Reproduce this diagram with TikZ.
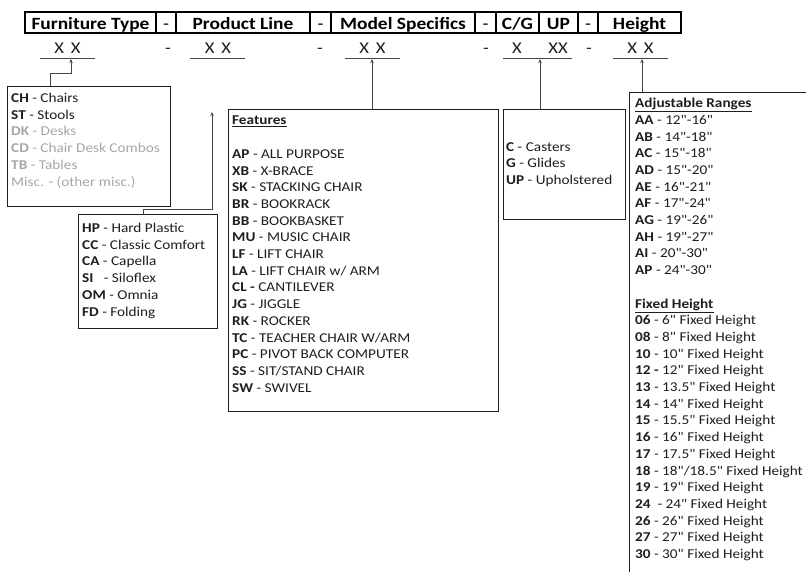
\documentclass[tikz,border=0pt]{standalone}
\usepackage{fontspec}
\setmainfont{Carlito}[FakeStretch=1.13, Ligatures=TeXOff]
\usepackage{xcolor}
\usetikzlibrary{arrows.meta,positioning}
\definecolor{ink}{RGB}{30,30,30}
\definecolor{faded}{RGB}{166,166,166}
\definecolor{wire}{RGB}{70,70,70}

\begin{document}
\begin{tikzpicture}[
    x=1pt, y=-1pt,
    font=\fontsize{13.5}{16.7}\selectfont,
    cell/.style={draw=black, line width=1.2pt, minimum height=21pt,
                 inner sep=0pt, outer sep=0pt, text height=15pt, text depth=1.4pt,
                 font=\fontsize{17.2}{19}\selectfont\bfseries},
    code/.style={inner sep=0pt, anchor=base, text=ink,
                 font=\fontsize{16.5}{19}\selectfont},
    box/.style={draw=ink, line width=0.9pt, inner sep=0pt, anchor=north west},
    list/.style={align=left, anchor=north west, inner sep=0pt, text=ink},
    rule/.style={draw=wire, line width=0.8pt},
    link/.style={-{Stealth[length=4pt,width=3.5pt]}, draw=wire, line width=0.8pt},
    node distance=0pt
  ]
    \useasboundingbox (0,0) rectangle (806,571);
    \clip (0,0) rectangle (806,571);

    % header row
    \node[cell, minimum width=131pt, anchor=north west] (ftype) at (25,12) {Furniture Type};
    \node[cell, minimum width=20pt, right=of ftype] (dash1) {\mdseries -};
    \node[cell, minimum width=134pt, right=of dash1] (pline) {Product Line};
    \node[cell, minimum width=21pt, right=of pline] (dash2) {\mdseries -};
    \node[cell, minimum width=144pt, right=of dash2] (model) {Model Specifics};
    \node[cell, minimum width=21pt, right=of model] (dash3) {\mdseries -};
    \node[cell, minimum width=43pt, right=of dash3] (cg) {C/G};
    \node[cell, minimum width=39pt, right=of cg] (up) {UP};
    \node[cell, minimum width=20pt, right=of up] (dash4) {\mdseries -};
    \node[cell, minimum width=83pt, right=of dash4] (height) {Height};

    % code row
    \node[code] (ftxx) at (67.5,53) {X\hspace{7pt}X};
    \node[code] (sep1) at (168,53) {-};
    \node[code] (plxx) at (218,53) {X\hspace{7pt}X};
    \node[code] (sep2) at (320,53) {-};
    \node[code] (msxx) at (372.5,53) {X\hspace{7pt}X};
    \node[code] (sep3) at (486,53) {-};
    \node[code] (cgx) at (517,53) {X};
    \node[code] (upxx) at (558,53) {XX};
    \node[code] (sep4) at (589,53) {-};
    \node[code] (hxx) at (640.5,53) {X\hspace{7pt}X};
    \draw[rule] (40,58) -- (95,58);
    \draw[rule] (190,58) -- (245,58);
    \draw[rule] (345,58) -- (400,58);
    \draw[rule] (503,58) -- (572,58);
    \draw[rule] (613,58) -- (668,58);
    \coordinate (mstip) at (372,59);
    \coordinate (cgtip) at (540,59);
    \coordinate (htip) at (642,59);

    % furniture types
    \node[box, minimum width=163pt, minimum height=120pt] (types) at (7,86) {};
    \node[list, below right=7pt and 4pt of types.north west] (typelist)
      {\textbf{CH} - Chairs\\
       \textbf{ST} - Stools\\
       \textcolor{faded}{\textbf{DK} - Desks}\\
       \textcolor{faded}{\textbf{CD} - Chair Desk Combos}\\
       \textcolor{faded}{\textbf{TB} - Tables}\\
       \textcolor{faded}{Misc. - (other misc.)}};

    % product lines
    \node[box, minimum width=139pt, minimum height=114pt] (lines) at (78,214) {};
    \node[list, below right=9pt and 4pt of lines.north west] (linelist)
      {\textbf{HP} - Hard Plastic\\
       \textbf{CC} - Classic Comfort\\
       \textbf{CA} - Capella\\
       \textbf{SI}~~~- Siloflex\\
       \textbf{OM} - Omnia\\
       \textbf{FD} - Folding};

    % model features
    \node[box, minimum width=270pt, minimum height=302pt] (features) at (228,109) {};
    \node[list, below right=7pt and 4pt of features.north west] (featlist)
      {\underline{\textbf{Features}}\\[16.7pt]
       \textbf{AP} - ALL PURPOSE\\
       \textbf{XB} - X-BRACE\\
       \textbf{SK} - STACKING CHAIR\\
       \textbf{BR} - BOOKRACK\\
       \textbf{BB} - BOOKBASKET\\
       \textbf{MU} - MUSIC CHAIR\\
       \textbf{LF} - LIFT CHAIR\\
       \textbf{LA} - LIFT CHAIR w/ ARM\\
       \textbf{CL -} CANTILEVER\\
       \textbf{JG} - JIGGLE\\
       \textbf{RK} - ROCKER\\
       \textbf{TC} - TEACHER CHAIR W/ARM\\
       \textbf{PC} - PIVOT BACK COMPUTER\\
       \textbf{SS} - SIT/STAND CHAIR\\
       \textbf{SW} - SWIVEL};

    % casters / glides
    \node[box, minimum width=122pt, minimum height=110pt] (bases) at (503,109) {};
    \node[list, below right=33pt and 3pt of bases.north west] (baselist)
      {\textbf{C} - Casters\\
       \textbf{G} - Glides\\
       \textbf{UP} - Upholstered};

    % heights (runs off the page)
    \node[box, minimum width=220pt, minimum height=520pt] (heights) at (629,92) {};
    \node[list, below right=6pt and 6pt of heights.north west] (heightlist)
      {\underline{\textbf{Adjustable Ranges}}\\
       \textbf{AA} - 12"-16"\\
       \textbf{AB} - 14"-18"\\
       \textbf{AC} - 15"-18"\\
       \textbf{AD} - 15"-20"\\
       \textbf{AE} - 16"-21"\\
       \textbf{AF} - 17"-24"\\
       \textbf{AG} - 19"-26"\\
       \textbf{AH} - 19"-27"\\
       \textbf{AI} - 20"-30"\\
       \textbf{AP} - 24"-30"\\[16.7pt]
       \underline{\textbf{Fixed Height}}\\
       \textbf{06} - 6" Fixed Height\\
       \textbf{08} - 8" Fixed Height\\
       \textbf{10} - 10" Fixed Height\\
       \textbf{12 -} 12" Fixed Height\\
       \textbf{13} - 13.5" Fixed Height\\
       \textbf{14} - 14" Fixed Height\\
       \textbf{15} - 15.5" Fixed Height\\
       \textbf{16} - 16" Fixed Height\\
       \textbf{17} - 17.5" Fixed Height\\
       \textbf{18} - 18"/18.5" Fixed Height\\
       \textbf{19} - 19" Fixed Height\\
       \textbf{24}~~- 24" Fixed Height\\
       \textbf{26} - 26" Fixed Height\\
       \textbf{27} - 27" Fixed Height\\
       \textbf{30} - 30" Fixed Height};

    % links
    \draw[link] ([xshift=43pt]types.north west) |- ++(21,-13) -- ++(0,-14);
    \draw[link] ([xshift=65pt]lines.north west) |- ++(69,-5) -- ++(0,-97);
    \draw[link] (features.north -| mstip) -- (mstip);
    \draw[link] (bases.north -| cgtip) -- (cgtip);
    \draw[link] (heights.north -| htip) -- (htip);
  \end{tikzpicture}
\end{document}
